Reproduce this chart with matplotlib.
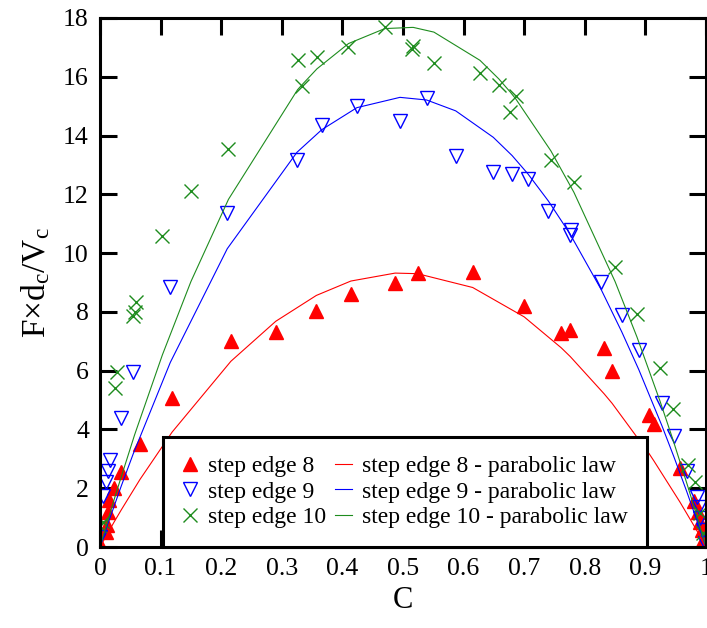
import matplotlib
matplotlib.use("Agg")
import matplotlib.pyplot as plt

plt.rcParams['font.family'] = ['Liberation Serif', 'DejaVu Serif']
plt.rcParams['mathtext.fontset'] = 'custom'
plt.rcParams['mathtext.rm'] = 'Liberation Serif'
plt.rcParams['mathtext.it'] = 'Liberation Serif:italic'

# step edge 8 (measured points)
c8 = [0, 0.01, 0.012, 0.013, 0.015, 0.023, 0.035, 0.066, 0.119, 0.216, 0.29, 0.357,
      0.414, 0.487, 0.524, 0.615, 0.70, 0.761, 0.776, 0.832, 0.845, 0.906, 0.914,
      0.957, 0.98, 0.987, 0.99, 0.993, 0.995]
y8 = [0.1, 0.5, 0.75, 1.2, 1.6, 2.0, 2.55, 3.5, 5.07, 7.0, 7.32, 8.03,
      8.6, 8.98, 9.32, 9.36, 8.2, 7.28, 7.38, 6.77, 5.99, 4.49, 4.18,
      2.69, 1.55, 1.2, 0.85, 0.58, 0.24]
fit8 = [0, 0.37, 0.44, 0.48, 0.55, 0.84, 1.26, 2.30, 3.91, 6.32, 7.68, 8.56,
        9.05, 9.32, 9.30, 8.83, 7.83, 6.78, 6.48, 5.21, 4.89, 3.18, 2.93,
        1.53, 0.73, 0.48, 0.37, 0.26, 0.19]

# step edge 9
c9 = [0, 0.005, 0.01, 0.013, 0.017, 0.035, 0.055, 0.116, 0.21, 0.325, 0.366, 0.424,
      0.495, 0.539, 0.587, 0.649, 0.68, 0.706, 0.74, 0.776, 0.777, 0.827, 0.861,
      0.889, 0.927, 0.947, 0.968, 0.985, 0.988, 0.99, 0.995, 0.998]
y9 = [0.34, 1.75, 2.2, 2.6, 2.96, 4.4, 5.97, 8.85, 11.36, 13.17, 14.36, 15.0,
      14.5, 15.28, 13.3, 12.76, 12.69, 12.52, 11.43, 10.6, 10.79, 9.02, 7.9,
      6.7, 4.9, 3.78, 2.6, 1.7, 1.36, 1.0, 0.58, 0.15]
fit9 = [0, 0.30, 0.61, 0.79, 1.02, 2.07, 3.18, 6.28, 10.15, 13.43, 14.20, 14.95,
        15.30, 15.21, 14.84, 13.94, 13.32, 12.70, 11.77, 10.64, 10.60, 8.76, 7.32,
        6.04, 4.14, 3.07, 1.90, 0.90, 0.73, 0.61, 0.30, 0.12]

# step edge 10
c10 = [0, 0.005, 0.024, 0.028, 0.055, 0.057, 0.06, 0.103, 0.15, 0.212, 0.326, 0.333,
       0.358, 0.41, 0.47, 0.515, 0.517, 0.551, 0.627, 0.658, 0.677, 0.686, 0.744,
       0.782, 0.85, 0.886, 0.924, 0.945, 0.97, 0.982, 0.99, 0.995]
y10 = [0.7, 0.85, 5.4, 5.95, 7.85, 7.99, 8.35, 10.58, 12.1, 13.54, 16.57, 15.69,
       16.67, 17.0, 17.69, 16.95, 17.05, 16.46, 16.13, 15.72, 14.81, 15.35, 13.17,
       12.42, 9.53, 7.93, 6.09, 4.7, 2.8, 2.21, 1.16, 0.48]
fit10 = [0, 0.35, 1.66, 1.93, 3.68, 3.81, 3.99, 6.54, 9.03, 11.83, 15.56, 15.72,
         16.27, 17.13, 17.64, 17.68, 17.68, 17.52, 16.56, 15.93, 15.48, 15.25, 13.48,
         12.07, 9.03, 7.15, 4.97, 3.68, 2.06, 1.25, 0.70, 0.35]

xticks = [0, 0.1, 0.2, 0.3, 0.4, 0.5, 0.6, 0.7, 0.8, 0.9, 1]
xtick_labels = ["0", "0.1", "0.2", "0.3", "0.4", "0.5", "0.6", "0.7", "0.8", "0.9", "1"]
yticks = [0, 2, 4, 6, 8, 10, 12, 14, 16, 18]

fig = plt.figure(figsize=(7.07, 6.28), dpi=100)
ax = fig.add_axes([100/707, 1-547/628, 606/707, 529/628])

green = "#1e8c1e"
p8, = ax.plot(c8, y8, linestyle="none", marker="^", ms=10, color="red", label="step edge 8")
p9, = ax.plot(c9, y9, linestyle="none", marker="v", ms=10, mfc="none", mec="blue", mew=1, label="step edge 9")
p10, = ax.plot(c10, y10, linestyle="none", marker="x", ms=10, color=green, mew=1, label="step edge 10")
l8, = ax.plot(c8 + [1], fit8 + [0], color="red", lw=0.8, label="step edge 8 - parabolic law")
l9, = ax.plot(c9 + [1], fit9 + [0], color="blue", lw=0.8, label="step edge 9 - parabolic law")
l10, = ax.plot(c10 + [1], fit10 + [0], color=green, lw=0.8, label="step edge 10 - parabolic law")

ax.set_xlim(0, 1)
ax.set_ylim(0, 18)
ax.set_xticks(xticks)
ax.set_xticklabels(xtick_labels)
ax.set_yticks(yticks)
ax.tick_params(direction="in", length=12.5, width=2.2, labelsize=18.5, pad=8,
               top=True, right=True)
for s in ax.spines.values():
    s.set_linewidth(2.2)

ax.set_xlabel("C", fontsize=22, labelpad=4)
ax.set_ylabel(r"F$\times$d$_{\rm c}$/V$_{\rm c}$", fontsize=24, labelpad=8)

leg = ax.legend(handles=[p8, p9, p10, l8, l9, l10], ncol=2, loc="lower left",
                bbox_to_anchor=(0.104, 0.0), fontsize=17, frameon=True, fancybox=False,
                handlelength=0.7, handletextpad=0.42, columnspacing=0.38,
                labelspacing=0.17, borderpad=0.8, borderaxespad=0)
leg.get_frame().set_edgecolor("black")
leg.get_frame().set_linewidth(2.2)
leg.get_frame().set_alpha(1)
leg.set_zorder(10)

plt.savefig("out.png", dpi=100)
